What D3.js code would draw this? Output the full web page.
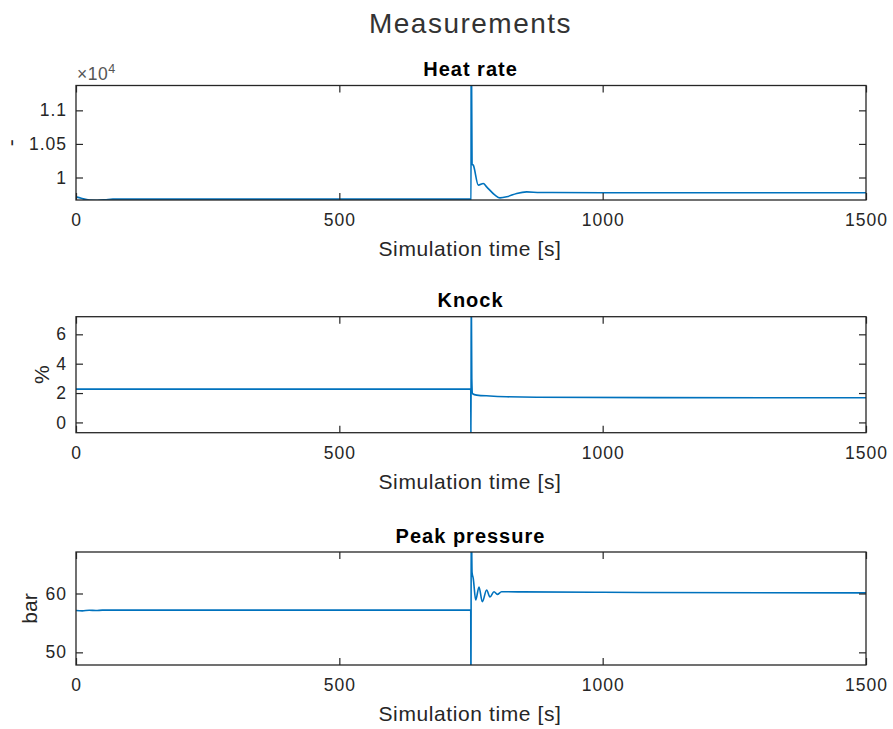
<!DOCTYPE html>
<html>
<head>
<meta charset="utf-8">
<script src="https://cdn.jsdelivr.net/npm/d3@7"></script>
<style>
    html, body { margin: 0; padding: 0; background: #fff; }
    text { font-family: "Liberation Sans", Arial, Helvetica, sans-serif; fill: #262626; }
</style>
</head>
<body>
<div id="chart"></div>
<script>
// --- data ---
const xTicks = [0, 500, 1000, 1500];

const heatRate = [
    [0, 9712], [10, 9690], [25, 9664], [40, 9662], [55, 9668], [70, 9678],
    [400, 9678], [749.5, 9678], [750, 9500], [750.4, 12500], [752, 10200],
    [754.4, 10183], [763.9, 9886], [773.4, 9911], [779.7, 9861], [795.6, 9737],
    [805, 9697], [817.8, 9712], [836.7, 9763], [855.7, 9786], [881, 9777],
    [1000, 9773], [1500, 9772]
];
const heatTicks = [10000, 10500, 11000];
const heatTickLabels = ["1", "1.05", "1.1"];
const heatLimits = [9665, 11370];

const knock = [
    [0, 2.27], [400, 2.27], [749.5, 2.27], [750, -2], [750.4, 10], [751.5, 3.0],
    [753, 1.95], [760.8, 1.86], [786, 1.80], [817.8, 1.75], [874.7, 1.71],
    [1100, 1.69], [1500, 1.68]
];
const knockTicks = [0, 2, 4, 6];
const knockLimits = [-0.7, 7.2];

const peakPressure = [
    [0, 57.1], [12, 57.05], [25, 57.15], [38, 57.1], [50, 57.17], [400, 57.17],
    [749.5, 57.17], [750, 40], [750.4, 75], [752, 63.6], [754.4, 62.5],
    [758.9, 58.9], [765.2, 61.1], [771.5, 58.6], [779.7, 60.6], [786, 59.4],
    [793.7, 60.3], [800, 59.85], [808, 60.3], [849, 60.27], [1000, 60.2],
    [1500, 60.1]
];
const pressureTicks = [50, 60];
const pressureLimits = [47.85, 67.05];

// --- layout ---
const W = 893, H = 729;
const left = 76, right = 866;
const lineColor = "#0072bd";

const panels = [
    { title: "Heat rate", ylabel: "-", labelX: 18.4, top: 85.5, bottom: 200,
      data: heatRate, ticks: heatTicks, tickLabels: heatTickLabels, limits: heatLimits, exponent: "4" },
    { title: "Knock", ylabel: "%", labelX: 49, top: 316.7, bottom: 432.7,
      data: knock, ticks: knockTicks, limits: knockLimits },
    { title: "Peak pressure", ylabel: "bar", labelX: 36.5, top: 552, bottom: 665,
      data: peakPressure, ticks: pressureTicks, limits: pressureLimits }
];

const svg = d3.select("#chart").append("svg")
    .attr("width", W).attr("height", H)
    .attr("viewBox", `0 0 ${W} ${H}`);

svg.append("text")
    .attr("x", 470.5).attr("y", 33)
    .attr("text-anchor", "middle")
    .style("font-size", "28px")
    .style("letter-spacing", "1.5px")
    .style("fill", "#333")
    .text("Measurements");

const x = d3.scaleLinear().domain([0, 1500]).range([left, right]);

panels.forEach((p, i) => {
    const g = svg.append("g");
    const y = d3.scaleLinear().domain(p.limits).range([p.bottom, p.top]);

    g.append("clipPath").attr("id", `clip${i}`)
        .append("rect")
        .attr("x", left).attr("y", p.top)
        .attr("width", right - left).attr("height", p.bottom - p.top);

    // monotone curve keeps the spike sharp but rounds the ringing after it
    const line = d3.line().curve(d3.curveMonotoneX).x(d => x(d[0])).y(d => y(d[1]));
    g.append("path").datum(p.data)
        .attr("clip-path", `url(#clip${i})`)
        .attr("fill", "none")
        .attr("stroke", lineColor)
        .attr("stroke-width", 1.6)
        .attr("stroke-linejoin", "round")
        .attr("d", line);

    // ticks, pointing inward on all four sides
    const fmt = p.tickLabels ? (d, k) => p.tickLabels[k] : d3.format("d");
    const axes = [
        { gen: d3.axisBottom(x).tickValues(xTicks).tickFormat(d3.format("d")), t: `translate(0,${p.bottom})`, pad: 14 },
        { gen: d3.axisTop(x).tickValues(xTicks).tickFormat(""), t: `translate(0,${p.top})` },
        { gen: d3.axisLeft(y).tickValues(p.ticks).tickFormat(fmt), t: `translate(${left},0)`, pad: 9 },
        { gen: d3.axisRight(y).tickValues(p.ticks).tickFormat(""), t: `translate(${right},0)` }
    ];
    axes.forEach(a => {
        const ag = g.append("g").attr("transform", a.t)
            .call(a.gen.tickSizeInner(-7).tickSizeOuter(0).tickPadding(a.pad || 3));
        ag.select(".domain").remove();
        ag.selectAll("line").attr("stroke", "#262626").attr("stroke-width", 1.2);
        ag.selectAll("text")
            .attr("fill", "#262626")
            .style("font-size", "17.5px")
            .style("letter-spacing", "1px")
            .style("font-family", '"Liberation Sans", Arial, sans-serif');
    });

    g.append("rect")
        .attr("x", left).attr("y", p.top)
        .attr("width", right - left).attr("height", p.bottom - p.top)
        .attr("fill", "none")
        .attr("stroke", "#262626")
        .attr("stroke-width", 1.3);

    g.append("text")
        .attr("x", (left + right) / 2 - 0.5).attr("y", p.top - 9.5)
        .attr("text-anchor", "middle")
        .style("font-size", "20px")
        .style("font-weight", "bold")
        .style("letter-spacing", "1px")
        .style("fill", "#000")
        .text(p.title);

    g.append("text")
        .attr("x", (left + right) / 2 - 1).attr("y", p.bottom + 56)
        .attr("text-anchor", "middle")
        .style("font-size", "21px")
        .style("letter-spacing", "0.6px")
        .text("Simulation time [s]");

    g.append("text")
        .attr("transform", `translate(${p.labelX},${(p.top + p.bottom) / 2}) rotate(-90)`)
        .attr("text-anchor", "middle")
        .style("font-size", "21px")
        .text(p.ylabel);

    if (p.exponent) {
        const ex = g.append("text")
            .attr("x", left + 1).attr("y", p.top - 5.5)
            .style("font-size", "17.5px")
            .style("letter-spacing", "0.5px")
            .style("fill", "#555");
        ex.append("tspan").text("\u00d710");
        ex.append("tspan").attr("dy", -7).style("font-size", "12.5px").text(p.exponent);
    }
});
</script>
</body>
</html>
